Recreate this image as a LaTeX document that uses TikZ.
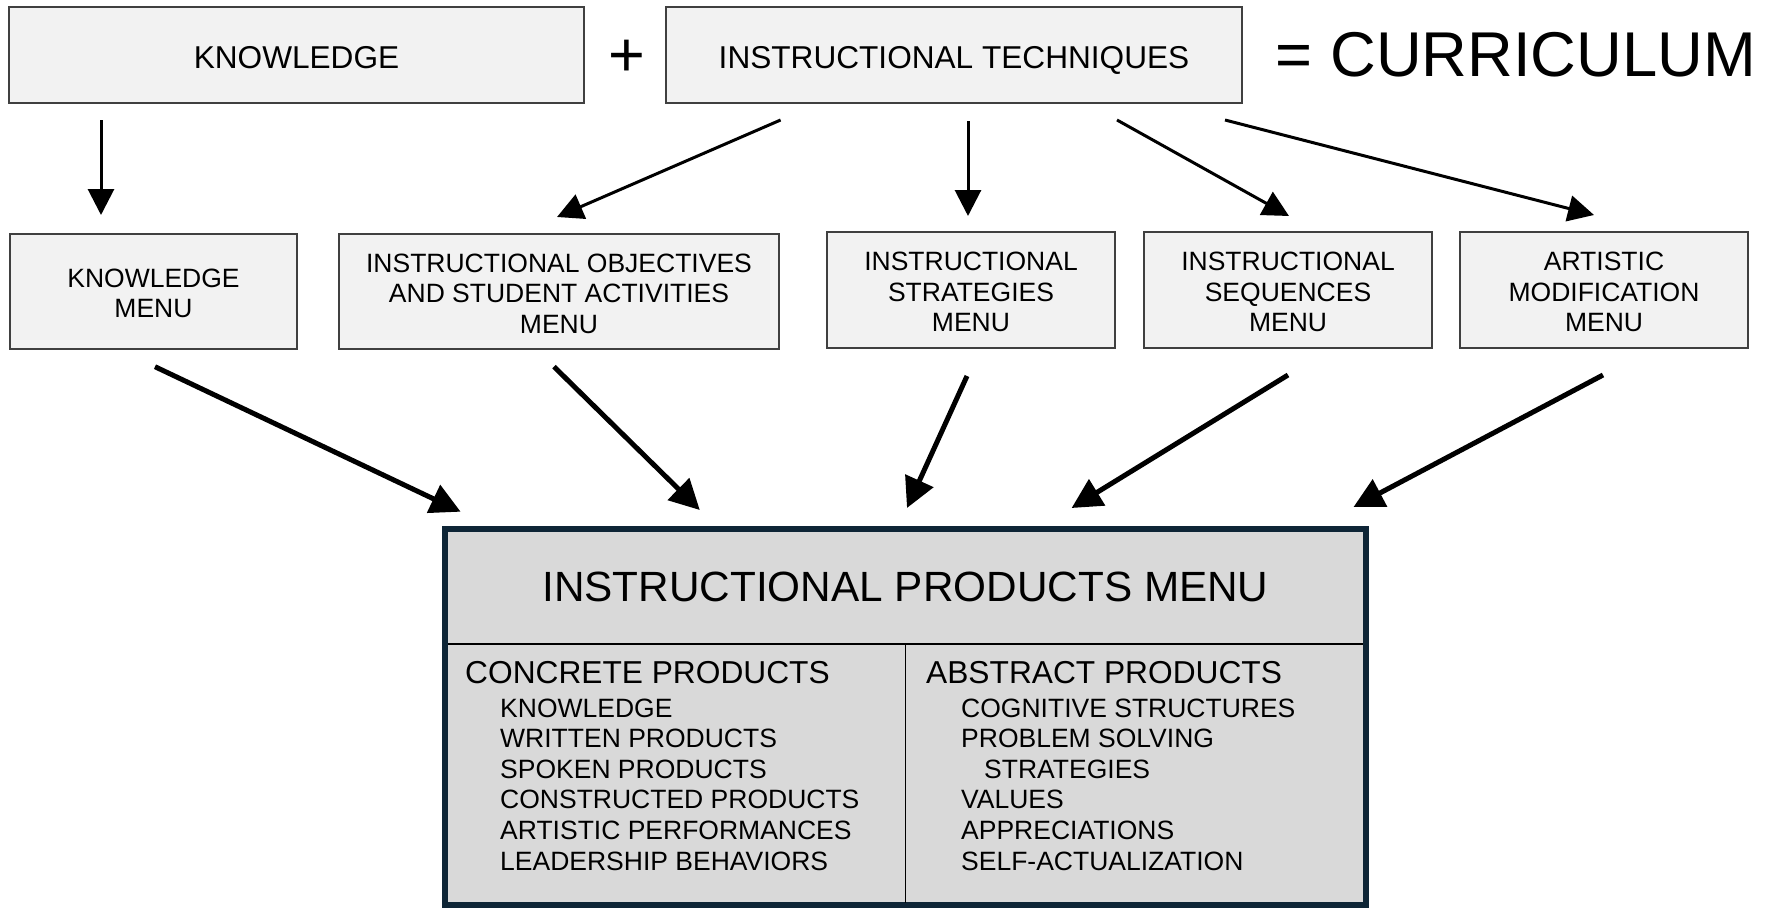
\documentclass[tikz,border=0pt]{standalone}
\usepackage{fontspec}
\setmainfont{Liberation Sans}
\usetikzlibrary{arrows.meta}
\definecolor{boxfill}{HTML}{F2F2F2}
\definecolor{boxline}{HTML}{404040}
\definecolor{bigfill}{HTML}{D9D9D9}
\definecolor{bigline}{HTML}{0E2536}
\begin{document}
\begin{tikzpicture}[x=1pt,y=-1pt,
  box/.style={draw=boxline, line width=1.5pt, fill=boxfill, inner sep=0pt},
  toptext/.style={inner sep=0pt, text depth=0pt, font=\fontsize{31.6}{36}\selectfont},
  menutext/.style={inner sep=0pt, align=center, font=\fontsize{26.5}{30.6}\selectfont},
  thinarrow/.style={line width=3pt, -{Triangle[length=26pt,width=26pt]}},
  thickarrow/.style={line width=5pt, -{Triangle[length=30pt,width=30pt]}},
  itemtext/.style={anchor=west, inner sep=0pt, font=\fontsize{26.5}{30.6}\selectfont},
  headtext/.style={anchor=west, inner sep=0pt, font=\fontsize{31.7}{36}\selectfont},
]
\useasboundingbox (0,0) rectangle (1781,908);

% top row
\node[box, minimum width=575pt, minimum height=96pt] (know) at (296.5,55) {};
\node[toptext] (knowt) at ([yshift=-2.5pt]know.center) {KNOWLEDGE};
\node[box, minimum width=576pt, minimum height=96pt] (tech) at (954,55) {};
\node[toptext] (techt) at ([yshift=-2.5pt]tech.center) {INSTRUCTIONAL TECHNIQUES};
\node[anchor=base, inner sep=0pt, font=\fontsize{63}{70}\selectfont] (plus) at (627,76) {+};
\node[inner sep=0pt, font=\fontsize{63.3}{70}\selectfont] (curr) at (1516,54.5) {= CURRICULUM};

% middle row
\node[box, minimum width=287pt, minimum height=115pt] (km) at (153.5,291.5) {};
\node[menutext] (kmt) at ([yshift=-2pt]km.center) {KNOWLEDGE\\MENU};
\node[box, minimum width=440pt, minimum height=115pt] (obj) at (559,291.5) {};
\node[menutext] (objt) at ([yshift=-2pt]obj.center) {INSTRUCTIONAL OBJECTIVES\\AND STUDENT ACTIVITIES\\MENU};
\node[box, minimum width=288pt, minimum height=116pt] (strat) at (971,290) {};
\node[menutext] (stratt) at ([yshift=-2pt]strat.center) {INSTRUCTIONAL\\STRATEGIES\\MENU};
\node[box, minimum width=288pt, minimum height=116pt] (seq) at (1288,290) {};
\node[menutext] (seqt) at ([yshift=-2pt]seq.center) {INSTRUCTIONAL\\SEQUENCES\\MENU};
\node[box, minimum width=288pt, minimum height=116pt] (art) at (1604,290) {};
\node[menutext] (artt) at ([yshift=-2pt]art.center) {ARTISTIC\\MODIFICATION\\MENU};

% big box
\node[draw=bigline, line width=6pt, fill=bigfill, minimum width=921pt, minimum height=376pt, inner sep=0pt] (prod) at (905.5,717) {};
\node[inner sep=0pt, font=\fontsize{42.3}{48}\selectfont] (title) at (905.5,587) {INSTRUCTIONAL PRODUCTS MENU};
\draw[line width=1.5pt] (448,644) -- (1363,644);
\draw[line width=1.5pt] (905.5,644) -- (905.5,903);

\node[headtext] (conc) at (465,673) {CONCRETE PRODUCTS};
\node[itemtext] (c1) at (500,708) {KNOWLEDGE};
\node[itemtext] (c2) at (500,738.6) {WRITTEN PRODUCTS};
\node[itemtext] (c3) at (500,769.2) {SPOKEN PRODUCTS};
\node[itemtext] (c4) at (500,799.8) {CONSTRUCTED PRODUCTS};
\node[itemtext] (c5) at (500,830.4) {ARTISTIC PERFORMANCES};
\node[itemtext] (c6) at (500,861) {LEADERSHIP BEHAVIORS};

\node[headtext] (abst) at (926,673) {ABSTRACT PRODUCTS};
\node[itemtext] (a1) at (961,708) {COGNITIVE STRUCTURES};
\node[itemtext] (a2) at (961,738.6) {PROBLEM SOLVING};
\node[itemtext] (a3) at (984,769.2) {STRATEGIES};
\node[itemtext] (a4) at (961,799.8) {VALUES};
\node[itemtext] (a5) at (961,830.4) {APPRECIATIONS};
\node[itemtext] (a6) at (961,861) {SELF-ACTUALIZATION};

% arrow end points
\coordinate (t1s) at (101,120);   \coordinate (t1e) at (101,215);
\coordinate (t2s) at (780.6,120); \coordinate (t2e) at (557,217);
\coordinate (t3s) at (968,121);   \coordinate (t3e) at (968,216);
\coordinate (t4s) at (1117,120);  \coordinate (t4e) at (1289,216);
\coordinate (t5s) at (1225,120);  \coordinate (t5e) at (1594,215);
\coordinate (b1s) at (155,366.7); \coordinate (b1e) at (460.6,511.7);
\coordinate (b2s) at (554,366.7); \coordinate (b2e) at (699.8,510);
\coordinate (b3s) at (967,376);   \coordinate (b3e) at (907,508);
\coordinate (b4s) at (1288,375);  \coordinate (b4e) at (1071.6,508);
\coordinate (b5s) at (1603,375);  \coordinate (b5e) at (1353.5,507);

\foreach \i in {1,...,5} {
  \draw[thinarrow] (t\i s) -- (t\i e);
  \draw[thickarrow] (b\i s) -- (b\i e);
}
\end{tikzpicture}
\end{document}
